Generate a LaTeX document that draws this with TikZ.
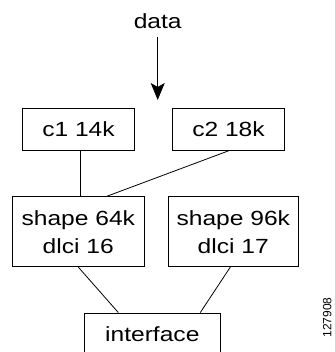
\documentclass[tikz,border=0pt]{standalone}
\usepackage{fontspec}
\setmainfont{Liberation Sans}[FakeStretch=1.2]
\newfontfamily\idfont{Liberation Sans}
\usetikzlibrary{arrows.meta}
\tikzset{
  qbox/.style={draw, line width=0.8pt, inner sep=0pt, align=center,
    font=\fontsize{20.5}{28}\selectfont},
}
\begin{document}
\begin{tikzpicture}[x=1pt, y=1pt, line width=0.8pt]
\useasboundingbox (0,0) rectangle (334,352);

\node[anchor=base, inner sep=0pt, font=\fontsize{20.5}{24}\selectfont] (data) at (157.7,323.7) {data};
\coordinate (tip) at (157.7,252);
\draw[-{Stealth[length=17pt, width=14pt, inset=4pt]}, shorten <=8pt] (data.south) -- (tip);

\node[qbox, minimum width=111.6pt, minimum height=42.5pt] (c1) at (78.5,222.8) {c1 14k};
\node[qbox, minimum width=111.6pt, minimum height=42.5pt] (c2) at (228.5,222.8) {c2 18k};

\node[qbox, minimum width=131.3pt, minimum height=70pt] (shape64) at (78.3,120.3) {shape 64k\\dlci 16};
\node[qbox, minimum width=130pt, minimum height=70pt] (shape96) at (233.3,120.3) {shape 96k\\dlci 17};

\node[qbox, minimum width=136.7pt, minimum height=42.5pt] (iface) at (152.3,17.8) {interface};

\draw ([xshift=1.5pt]c1.south) -- ([xshift=1.5pt]c1.south |- shape64.north);
\draw (c2.south) -- ([xshift=28.5pt]shape64.north);
\draw (shape64.south) -- ([xshift=-34pt]iface.north);
\draw ([xshift=-3pt]shape96.south) -- ([xshift=48pt]iface.north);

\node[rotate=90, inner sep=0pt, font=\idfont\fontsize{12}{14}\selectfont] (figid) at (327.2,34.5) {127908};
\end{tikzpicture}
\end{document}
